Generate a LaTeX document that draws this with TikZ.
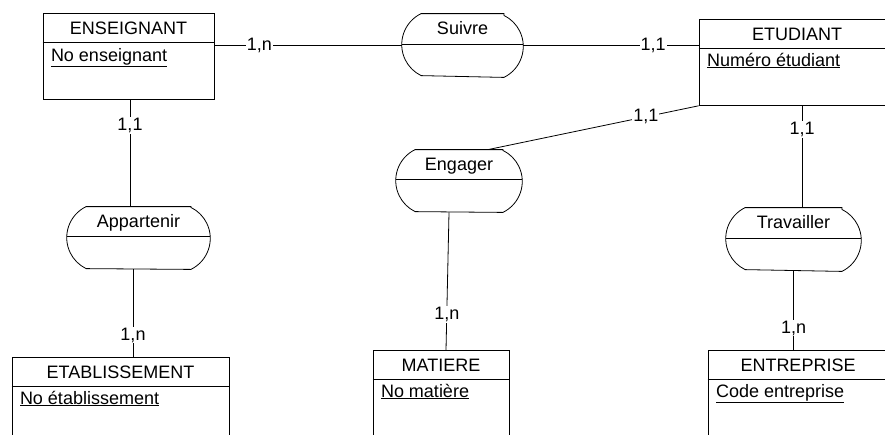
\documentclass[tikz,border=0pt]{standalone}
\usepackage{fontspec}
\setmainfont{Liberation Sans}
\usetikzlibrary{calc}

\begin{document}
\begin{tikzpicture}[x=1pt,y=1pt,line width=0.8pt,font=\fontsize{18}{21}\selectfont,
  entity/.style={draw,rectangle,inner sep=0pt,anchor=north,minimum height=86},
  relation/.style={rectangle,inner sep=0pt,minimum height=62},
  card/.style={fill=white,inner sep=1pt}]
\useasboundingbox (0,0) rectangle (885,-434);

% entites
\node[entity,minimum width=171] (ens) at (128.5,-13) {};
\node[entity,minimum width=196] (etu) at (797,-19) {};
\node[entity,minimum width=217,minimum height=100] (etab) at (120.5,-357) {};
\node[entity,minimum width=136,minimum height=100] (mat) at (441,-350) {};
\node[entity,minimum width=180,minimum height=100] (entr) at (798,-350) {};

\node[anchor=base] (ens-t) at ([yshift=-21]ens.north) {ENSEIGNANT};
\node[anchor=base] (etu-t) at ([yshift=-21]etu.north) {ETUDIANT};
\node[anchor=base] (etab-t) at ([yshift=-21]etab.north) {ETABLISSEMENT};
\node[anchor=base] (mat-t) at ([yshift=-21]mat.north) {MATIERE};
\node[anchor=base] (entr-t) at ([yshift=-21]entr.north) {ENTREPRISE};

\node[anchor=base west,inner sep=0pt] (ens-a) at ([xshift=8,yshift=-48]ens.north west) {\underline{No enseignant}};
\node[anchor=base west,inner sep=0pt] (etu-a) at ([xshift=8,yshift=-47]etu.north west) {\underline{Numéro étudiant}};
\node[anchor=base west,inner sep=0pt] (etab-a) at ([xshift=8,yshift=-47]etab.north west) {\underline{No établissement}};
\node[anchor=base west,inner sep=0pt] (mat-a) at ([xshift=8,yshift=-47]mat.north west) {\underline{No matière}};
\node[anchor=base west,inner sep=0pt] (entr-a) at ([xshift=8,yshift=-47]entr.north west) {\underline{Code entreprise}};

\foreach \ent in {ens,etu,etab,mat,entr}
  \draw ([yshift=-29]\ent.north west) -- ([yshift=-29]\ent.north east);

% associations
\node[relation,minimum width=121,minimum height=63] (suivre) at (462.5,-45.5) {};
\node[relation,minimum width=126] (engager) at (459,-181) {};
\node[relation,minimum width=143] (app) at (138.5,-238) {};
\node[relation,minimum width=135,minimum height=63] (trav) at (793.5,-239.5) {};

\node[anchor=base] (suivre-t) at ([yshift=-21]suivre.north) {Suivre};
\node[anchor=base] (engager-t) at ([yshift=-21]engager.north) {Engager};
\node[anchor=base] (app-t) at ([yshift=-21]app.north) {Appartenir};
\node[anchor=base] (trav-t) at ([yshift=-21]trav.north) {Travailler};

\foreach \rel in {suivre,engager,app,trav} {
  \draw ([xshift=-19.5]\rel.north east) -- ([xshift=19.5]\rel.north west)
    arc[start angle=116,end angle=244,radius=34.5]
    -- ([xshift=-19.5]\rel.south east)
    arc[start angle=-64,end angle=64,radius=34.5] -- cycle;
  \draw ([yshift=1.5]\rel.west) -- ([yshift=1.5]\rel.east);
}

% liens
\draw (ens.east |- suivre.west) -- (suivre.west) node[card,pos=0.24] {1,n};
\draw (suivre.east) -- (suivre.east -| etu.west) node[card,pos=0.74] {1,1};
\draw ([xshift=29]engager.north) -- (etu.south west) node[card,pos=0.75] {1,1};
\draw ([xshift=5]etu.south) -- ([xshift=5]etu.south |- trav.north) node[card,pos=0.23] {1,1};
\draw (trav.south) -- (trav.south |- entr.north) node[card,pos=0.72] {1,n};
\draw ([xshift=-10]engager.south) -- ([xshift=5]mat.north) node[card,pos=0.74] {1,n};
\draw ([xshift=1.5]ens.south) -- ([xshift=1.5]ens.south |- app.north) node[card,pos=0.24] {1,1};
\draw ([xshift=-5.5]app.south) -- ([xshift=-5.5]app.south |- etab.north) node[card,pos=0.75] {1,n};
\end{tikzpicture}
\end{document}
